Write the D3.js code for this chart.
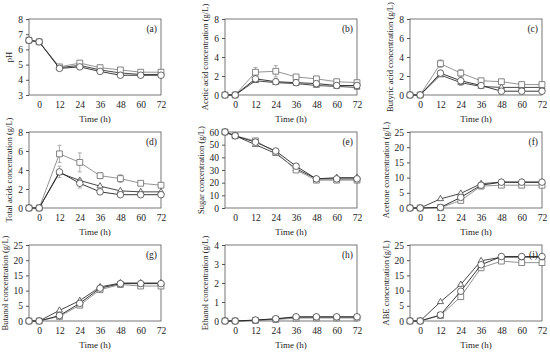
<!DOCTYPE html>
<html>
<head>
<meta charset="utf-8">
<script src="https://cdn.jsdelivr.net/npm/d3@7"></script>
<style>
  body { margin: 0; background: #fff; }
  text { font-family: "Liberation Serif", "Times New Roman", serif; fill: #222; }
</style>
</head>
<body>
<div id="chart"></div>
<script>
// sampling times (h)
const times = [-6, 0, 12, 24, 36, 48, 60, 72];
const xTicks = [0, 12, 24, 36, 48, 60, 72];

// (a) pH
const phCircle = [6.6, 6.5, 4.75, 4.85, 4.55, 4.3, 4.3, 4.3];
const phSquare = [6.6, 6.5, 4.85, 5.1, 4.8, 4.65, 4.5, 4.5];
const phTri = [6.6, 6.5, 4.8, 4.95, 4.65, 4.45, 4.35, 4.35];
// (b) acetic acid
const acCircle = [0, 0, 1.7, 1.4, 1.3, 1.2, 1.0, 1.0];
const acSquare = [0, 0, 2.4, 2.5, 1.9, 1.7, 1.4, 1.3];
const acTri = [0, 0, 1.5, 1.3, 1.2, 1.0, 0.9, 0.8];
const acSquareErr = [0, 0, 0.5, 0.6, 0.2, 0.2, 0.1, 0.1];
const acCircleErr = [0, 0, 0.3, 0.3, 0.2, 0.2, 0.1, 0.1];
// (c) butyric acid
const buCircle = [0, 0, 2.3, 1.5, 1.0, 0.4, 0.4, 0.4];
const buSquare = [0, 0, 3.3, 2.3, 1.5, 1.4, 1.1, 1.1];
const buTri = [0, 0, 2.1, 1.3, 0.9, 0.8, 0.8, 0.8];
const buSquareErr = [0, 0, 0.4, 0.4, 0.2, 0.2, 0.1, 0.1];
const buCircleErr = [0, 0, 0.3, 0.5, 0.2, 0.1, 0.1, 0.1];
// (d) total acids
const taCircle = [0, 0, 3.8, 2.6, 1.7, 1.4, 1.4, 1.4];
const taSquare = [0, 0, 5.7, 4.8, 3.4, 3.1, 2.6, 2.4];
const taTri = [0, 0, 3.7, 2.9, 2.3, 1.8, 1.7, 1.7];
const taSquareErr = [0, 0, 0.9, 1.0, 0.3, 0.4, 0.2, 0.2];
const taCircleErr = [0, 0, 0.6, 0.5, 0.2, 0.2, 0.1, 0.1];
// (e) sugar
const suCircle = [60, 57, 52, 45, 33, 23, 23, 23];
const suSquare = [60, 57, 53, 44, 30, 22, 22, 22];
const suTri = [60, 57, 50, 43, 31, 23, 24, 24];
// (f) acetone
const atCircle = [0, 0, 0.2, 3.5, 7.5, 8.5, 8.5, 8.5];
const atSquare = [0, 0, 0.1, 2.5, 7.2, 7.5, 7.5, 7.5];
const atTri = [0, 0, 3.0, 4.8, 8.0, 8.5, 8.5, 8.5];
// (g) butanol
const btCircle = [0, 0, 1.8, 5.8, 10.8, 12.3, 12.3, 12.3];
const btSquare = [0, 0, 1.5, 5.2, 10.3, 12.0, 11.5, 11.5];
const btTri = [0, 0, 3.5, 6.7, 11.2, 12.5, 12.5, 12.5];
// (h) ethanol
const etCircle = [0, 0, 0.05, 0.12, 0.22, 0.22, 0.22, 0.22];
const etSquare = [0, 0, 0.03, 0.08, 0.15, 0.16, 0.16, 0.16];
const etTri = [0, 0, 0.04, 0.1, 0.2, 0.2, 0.2, 0.2];
// (i) ABE
const abeCircle = [0, 0, 2.0, 9.8, 18.5, 21.2, 21.2, 21.2];
const abeSquare = [0, 0, 1.8, 8.0, 17.5, 19.7, 19.2, 19.2];
const abeTri = [0, 0, 6.3, 12.0, 19.8, 21.0, 21.0, 21.0];

const panels = [
  { tag: "(a)", ylab: "pH", dom: [3, 8], step: 1, c: phCircle, s: phSquare, t: phTri },
  { tag: "(b)", ylab: "Acetic acid concentration (g/L)", dom: [0, 8], step: 2, c: acCircle, s: acSquare, t: acTri, se: acSquareErr, ce: acCircleErr },
  { tag: "(c)", ylab: "Butyric acid concentration (g/L)", dom: [0, 8], step: 2, c: buCircle, s: buSquare, t: buTri, se: buSquareErr, ce: buCircleErr },
  { tag: "(d)", ylab: "Total acids concentration (g/L)", dom: [0, 8], step: 2, c: taCircle, s: taSquare, t: taTri, se: taSquareErr, ce: taCircleErr },
  { tag: "(e)", ylab: "Sugar concentration (g/L)", dom: [0, 60], step: 10, c: suCircle, s: suSquare, t: suTri },
  { tag: "(f)", ylab: "Acetone concentration (g/L)", dom: [0, 25], step: 5, c: atCircle, s: atSquare, t: atTri },
  { tag: "(g)", ylab: "Butanol concentration (g/L)", dom: [0, 25], step: 5, c: btCircle, s: btSquare, t: btTri },
  { tag: "(h)", ylab: "Ethanol concentration (g/L)", dom: [0, 4], step: 1, c: etCircle, s: etSquare, t: etTri },
  { tag: "(i)", ylab: "ABE concentration (g/L)", dom: [0, 25], step: 5, c: abeCircle, s: abeSquare, t: abeTri }
];

const colLeft = [29, 225, 410];
const rowTop = [19, 132, 245];
const pw = 132, ph = 76;

const svg = d3.select("#chart").append("svg")
  .attr("width", 550).attr("height", 353);

panels.forEach((p, i) => {
  const col = i % 3, row = Math.floor(i / 3);
  const g = svg.append("g")
    .attr("transform", "translate(" + colLeft[col] + "," + rowTop[row] + ")");

  const x = d3.scaleLinear().domain([-6, 72]).range([0, pw]);
  const y = d3.scaleLinear().domain(p.dom).range([ph, 0]);

  // frame
  g.append("rect").attr("width", pw).attr("height", ph)
    .attr("fill", "none").attr("stroke", "#555").attr("stroke-width", 0.8);

  // axes
  const yAxis = g.append("g")
    .call(d3.axisLeft(y)
      .tickValues(d3.range(p.dom[0], p.dom[1] + 0.001, p.step))
      .tickFormat(d3.format("d")).tickSize(3).tickPadding(3));
  const xAxis = g.append("g").attr("transform", "translate(0," + ph + ")")
    .call(d3.axisBottom(x).tickValues(xTicks).tickSize(0).tickPadding(6));
  [xAxis, yAxis].forEach(a => {
    a.select(".domain").remove();
    a.selectAll("line").attr("stroke", "#555");
    a.selectAll("text").style("font-size", "9.5px")
      .style("font-family", "'Liberation Serif', serif").attr("fill", "#222");
  });

  // axis titles
  const wide = p.dom[1] >= 10;
  g.append("text").attr("x", pw / 2).attr("y", ph + 27)
    .attr("text-anchor", "middle").style("font-size", "9px").text("Time (h)");
  g.append("text").attr("transform", "rotate(-90)")
    .attr("x", -ph / 2).attr("y", wide ? -21 : -17)
    .attr("text-anchor", "middle").style("font-size", "8.5px").text(p.ylab);

  // panel tag
  g.append("text").attr("x", pw - 4).attr("y", 13)
    .attr("text-anchor", "end").style("font-size", "9.5px").text(p.tag);

  const line = d3.line().x((d, k) => x(times[k])).y(d => y(d));

  const series = [
    { v: p.t, line: "#333", mark: "#444", shape: d3.symbolTriangle, size: 16 },
    { v: p.s, line: "#888", mark: "#666", shape: d3.symbolSquare, size: 34, err: p.se },
    { v: p.c, line: "#222", mark: "#444", shape: d3.symbolCircle, size: 34, err: p.ce }
  ];

  series.forEach(s => {
    // error bars
    if (s.err) {
      s.err.forEach((e, k) => {
        if (e <= 0) return;
        const cx = x(times[k]);
        const lo = y(s.v[k] - e), hi = y(s.v[k] + e);
        g.append("path")
          .attr("d", "M" + cx + "," + lo + "V" + hi +
            "M" + (cx - 2) + "," + lo + "h4" +
            "M" + (cx - 2) + "," + hi + "h4")
          .attr("stroke", "#999").attr("stroke-width", 0.8).attr("fill", "none");
      });
    }
    g.append("path").datum(s.v).attr("d", line)
      .attr("fill", "none").attr("stroke", s.line).attr("stroke-width", 0.9);
    g.append("g").selectAll("path").data(s.v).enter().append("path")
      .attr("transform", (d, k) => "translate(" + x(times[k]) + "," + y(d) + ")")
      .attr("d", d3.symbol().type(s.shape).size(s.size))
      .attr("fill", "#fff").attr("stroke", s.mark).attr("stroke-width", 0.8);
  });
});
</script>
</body>
</html>
